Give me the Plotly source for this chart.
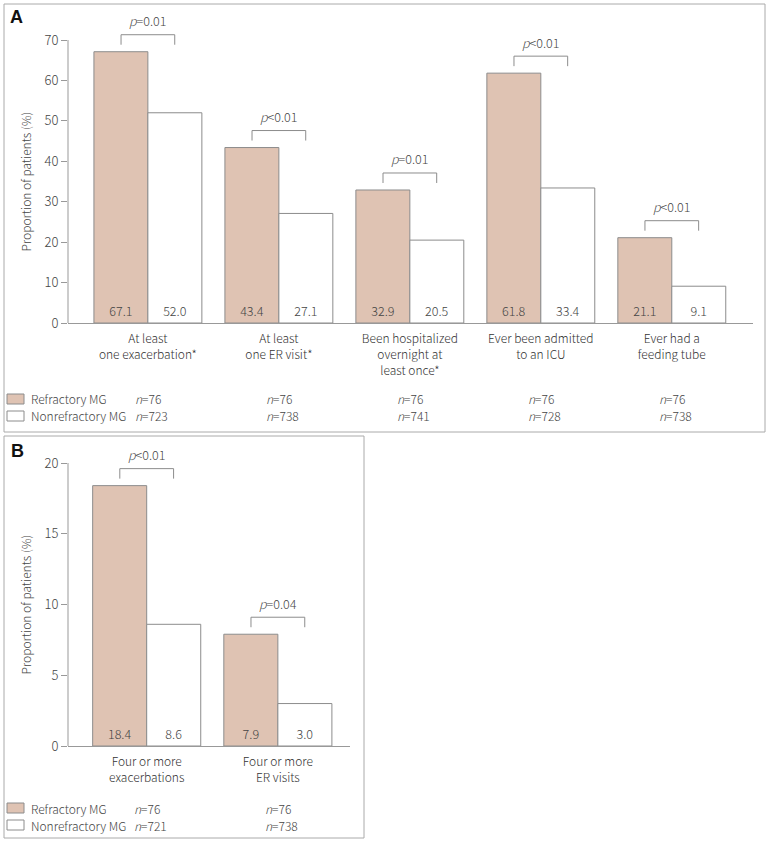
import plotly.graph_objects as go

# ---------------- data ----------------
cats_a = ["At least<br>one exacerbation*", "At least<br>one ER visit*",
          "Been hospitalized<br>overnight at<br>least once*",
          "Ever been admitted<br>to an ICU", "Ever had a<br>feeding tube"]
refr_a = [67.1, 43.4, 32.9, 61.8, 21.1]
nonr_a = [52.0, 27.1, 20.5, 33.4, 9.1]
p_a = ["=0.01", "<0.01", "=0.01", "<0.01", "<0.01"]
n_refr_a = [76, 76, 76, 76, 76]
n_nonr_a = [723, 738, 741, 728, 738]
yticks_a = [0, 10, 20, 30, 40, 50, 60, 70]

cats_b = ["Four or more<br>exacerbations", "Four or more<br>ER visits"]
refr_b = [18.4, 7.9]
nonr_b = [8.6, 3.0]
p_b = ["<0.01", "=0.04"]
n_refr_b = [76, 76]
n_nonr_b = [721, 738]
yticks_b = [0, 5, 10, 15, 20]

series_names = ["Refractory MG", "Nonrefractory MG"]

# ---------------- style ----------------
W, H = 768, 843
FONT = "Noto Sans CJK KR"
WT = 300
TXT = "#444444"
AX = "#999999"
REF_FILL = "#dfc3b3"
BAR_LINE = "#8c8c8c"

def px_x(p):
    return p / W

def px_y(p):
    return 1 - p / H

def f(size, color=TXT):
    return dict(family=FONT, size=size, color=color, weight=WT)

fig = go.Figure()

panels = [
    dict(x="x", y="y", xa="xaxis", ya="yaxis", cats=cats_a, r=refr_a, n=nonr_a, p=p_a,
         nr=n_refr_a, nn=n_nonr_a, ticks=yticks_a, left=68, right=753, y0px=323, ytoppx=40,
         topfig=8, xr=[-0.61, 4.62], box=(4, 4, 765, 432), letter=("A", 16, 17),
         leg_rows=(399, 416)),
    dict(x="x2", y="y2", xa="xaxis2", ya="yaxis2", cats=cats_b, r=refr_b, n=nonr_b, p=p_b,
         nr=n_refr_b, nn=n_nonr_b, ticks=yticks_b, left=68, right=350, y0px=746, ytoppx=463,
         topfig=440, xr=[-0.6, 1.55], box=(4, 436, 364, 838), letter=("B", 17, 451),
         leg_rows=(808, 825)),
]

shapes = []
annotations = []
layout_axes = {}

for pi, P in enumerate(panels):
    xs = list(range(len(P["cats"])))
    ymax_tick = P["ticks"][-1]
    ppu = (P["y0px"] - P["ytoppx"]) / ymax_tick
    yr_top = (P["y0px"] - P["topfig"]) / ppu

    for vals, fill, nm in ((P["r"], REF_FILL, series_names[0]), (P["n"], "white", series_names[1])):
        fig.add_trace(go.Bar(
            x=xs, y=vals, name=nm, xaxis=P["x"], yaxis=P["y"],
            marker=dict(color=fill, line=dict(color=BAR_LINE, width=1)),
            text=vals, texttemplate="%{y:.1f}", textposition="inside",
            insidetextanchor="start", textangle=0,
            textfont=f(12.5), showlegend=False, hoverinfo="skip"))

    layout_axes[P["xa"]] = dict(
        domain=[px_x(P["left"]), px_x(P["right"])], range=P["xr"],
        tickvals=xs, ticktext=P["cats"], showline=True, linecolor=AX, linewidth=1,
        ticks="", ticklabelstandoff=5, showgrid=False, zeroline=False, anchor=P["y"],
        tickfont=f(12, "#333333"), fixedrange=True)
    layout_axes[P["ya"]] = dict(
        domain=[px_y(P["y0px"]), px_y(P["topfig"])], range=[0, yr_top],
        tickvals=P["ticks"], ticks="outside", ticklen=6, tickcolor=AX,
        showline=False, showgrid=False, zeroline=False, anchor=P["x"],
        tickfont=f(13), fixedrange=True)

    # y-axis line only up to the top tick
    shapes.append(dict(type="line", xref=P["x"] + " domain", yref=P["y"],
                       x0=0, x1=0, y0=0, y1=ymax_tick, line=dict(color=AX, width=1)))

    # significance brackets
    half = 0.205
    for i, (a, b, pv) in enumerate(zip(P["r"], P["n"], P["p"])):
        top = max(a, b)
        shapes.append(dict(type="path", xref=P["x"], yref=P["y"], ysizemode="pixel",
                           yanchor=top,
                           path=f"M {i-half},7 L {i-half},17 L {i+half},17 L {i+half},7",
                           line=dict(color=BAR_LINE, width=1)))
        annotations.append(dict(x=i, y=top, xref=P["x"], yref=P["y"], yshift=31,
                                xanchor="center", yanchor="middle",
                                text=f"<i>p</i>{pv.replace('<', '&lt;')}", showarrow=False,
                                font=f(12.5)))

    # y-axis title
    annotations.append(dict(x=px_x(25), y=px_y((P["y0px"] + P["ytoppx"]) / 2),
                            xref="paper", yref="paper", text="Proportion of patients (%)",
                            xanchor="center", yanchor="middle",
                            textangle=-90, showarrow=False, font=f(12)))

    # panel frame
    bx0, by0, bx1, by1 = P["box"]
    shapes.append(dict(type="rect", xref="paper", yref="paper",
                       x0=px_x(bx0), x1=px_x(bx1), y0=px_y(by1), y1=px_y(by0),
                       line=dict(color="#aaaaaa", width=1), fillcolor="rgba(0,0,0,0)"))
    lt, lx, ly = P["letter"]
    annotations.append(dict(x=px_x(lx), y=px_y(ly), xref="paper", yref="paper", text=f"<b>{lt}</b>",
                            xanchor="center", yanchor="middle", showarrow=False,
                            font=dict(family="Liberation Sans", size=18, color="#111111")))

    # legend rows + n values
    fills = [REF_FILL, "white"]
    ns = [P["nr"], P["nn"]]
    for k, row_y in enumerate(P["leg_rows"]):
        shapes.append(dict(type="rect", xref="paper", yref="paper",
                           x0=px_x(7), x1=px_x(24), y0=px_y(row_y + 5), y1=px_y(row_y - 5),
                           line=dict(color=BAR_LINE, width=1), fillcolor=fills[k]))
        annotations.append(dict(x=px_x(30), y=px_y(row_y), xref="paper", yref="paper",
                                text=series_names[k], xanchor="left", yanchor="middle",
                                showarrow=False, borderpad=0, font=f(12)))
        for i, nv in enumerate(ns[k]):
            annotations.append(dict(x=i, y=px_y(row_y), xref=P["x"], yref="paper",
                                    xanchor="left", yanchor="middle", xshift=-14,
                                    borderpad=0,
                                    text=f"<i>n</i>={nv}", showarrow=False, font=f(12)))

fig.update_layout(
    width=W, height=H, margin=dict(l=0, r=0, t=0, b=0, autoexpand=False),
    paper_bgcolor="white", plot_bgcolor="white",
    barmode="group", bargap=0.176, bargroupgap=0,
    showlegend=False, shapes=shapes, annotations=annotations,
    font=dict(family=FONT, color=TXT),
    **layout_axes)

fig.write_html(
    "out.html",
    config={"displayModeBar": False, "responsive": False},
    post_script=("document.documentElement.style.margin='0';"
                 "document.documentElement.style.overflow='hidden';"
                 "document.body.style.margin='0';"
                 "document.body.style.overflow='hidden';"))
